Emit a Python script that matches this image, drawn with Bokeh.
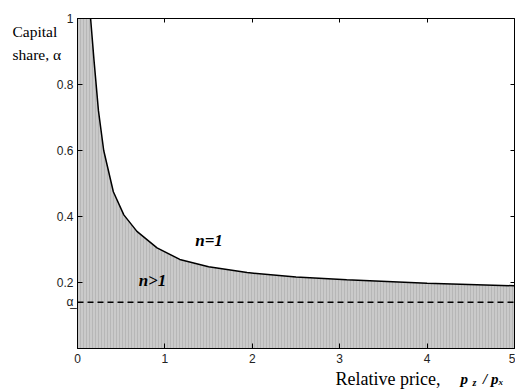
from bokeh.plotting import figure
from bokeh.models import Range1d, LinearAxis, FixedTicker, Label, Span
from bokeh.embed import file_html
from bokeh.resources import INLINE

# curve separating the n>1 region (shaded) from n=1 region
price = [0.0, 0.15, 0.19, 0.24, 0.30, 0.41, 0.53, 0.68, 0.91, 1.17, 1.5, 1.94, 2.5, 3.08, 4.0, 5.0]
share = [1.0, 1.0, 0.87, 0.72, 0.60, 0.475, 0.405, 0.355, 0.305, 0.27, 0.248, 0.23, 0.217, 0.208, 0.198, 0.19]
alpha_min = 0.140
x_ticks = [0, 1, 2, 3, 4, 5]
y_ticks = [alpha_min, 0.2, 0.4, 0.6, 0.8, 1]
y_labels = {alpha_min: "\u03b1\u0332"}
top_ticks = [1, 2, 3, 4]
right_ticks = [0.2, 0.4, 0.6, 0.8]

p = figure(frame_width=437, frame_height=330, output_backend="svg", toolbar_location=None,
           x_range=Range1d(0, 5), y_range=Range1d(0, 1),
           min_border_left=77, min_border_right=1, min_border_top=18, min_border_bottom=42)
p.grid.visible = False
p.outline_line_color = "black"
p.outline_line_width = 1
p.background_fill_color = "white"
p.border_fill_color = "white"

p.varea(x=price, y1=[0] * len(price), y2=share, fill_color="#cacaca",
        hatch_pattern="vertical_line", hatch_color="#8a8a8a", hatch_alpha=0.3,
        hatch_scale=3, hatch_weight=1)
p.line(price[1:], share[1:], line_color="black", line_width=1.5)
p.add_layout(Span(location=alpha_min, dimension="width", line_color="black",
                  line_width=1.4, line_dash="6 4"))

for ax in (p.xaxis[0], p.yaxis[0]):
    ax.major_tick_in = 5
    ax.major_tick_out = 0
    ax.minor_tick_line_color = None
    ax.axis_line_color = "black"
    ax.major_label_text_font = "Liberation Sans"
    ax.major_label_text_font_size = "12px"
    ax.major_label_text_color = "#222222"
p.xaxis[0].ticker = FixedTicker(ticks=x_ticks)
p.yaxis[0].ticker = FixedTicker(ticks=y_ticks)
p.yaxis[0].major_label_overrides = y_labels
p.xaxis[0].major_label_standoff = 5
p.yaxis[0].major_label_standoff = 4

top = LinearAxis(ticker=FixedTicker(ticks=top_ticks), major_tick_in=4, major_tick_out=0,
                 minor_tick_line_color=None, major_label_text_font_size="1px",
                 major_label_text_color=None, major_label_standoff=0, axis_line_color="black")
right = LinearAxis(ticker=FixedTicker(ticks=right_ticks), major_tick_in=4, major_tick_out=0,
                   minor_tick_line_color=None, major_label_text_font_size="1px",
                   major_label_text_color=None, major_label_standoff=0, axis_line_color="black")
p.add_layout(top, "above")
p.add_layout(right, "right")

serif = "Liberation Serif"
def lab(x, y, t, size="16px", style="normal", align="left", base="middle", place="center",
        lh=1.2):
    p.add_layout(Label(x=x, y=y, text=t, text_font=serif, text_font_size=size,
                       text_font_style=style, text_align=align, text_baseline=base,
                       text_line_height=lh, text_color="black"), place)

lab(1.505, 0.327, "n=1", "17px", "bold italic", "center")
lab(0.858, 0.206, "n>1", "17px", "bold italic", "center")
# texts outside the frame live in the side panels (so they are not clipped)
lab(-0.744, 0.926, "Capital\nshare, \u03b1", "15.5px", place="left", lh=1.35)
lab(4.519, -0.102, "z", "10px", "bold italic", base="alphabetic", place="left")
lab(2.952, -0.092, "Relative price,", "18px", base="alphabetic", place="below")
lab(4.382, -0.092, "p\u00a0\u00a0\u00a0\u00a0/\u00a0p\u2093", "15px", "bold italic",
    base="alphabetic", place="above")

open("out.html", "w").write(file_html(p, INLINE))
